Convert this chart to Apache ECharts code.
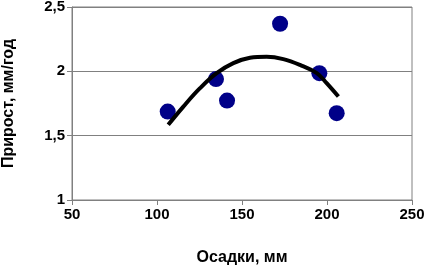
<!DOCTYPE html>
<html><head><meta charset="utf-8">
<script src="https://cdn.jsdelivr.net/npm/echarts@6/dist/echarts.min.js"></script>
<style>html,body{margin:0;padding:0;background:#fff}#c{width:425px;height:266px}</style>
</head><body><div id="c"></div>
<script>
var pointsX = [106.3, 134.7, 141.2, 172.4, 195.5, 205.7];
var pointsY = [1.687, 1.94, 1.773, 2.37, 1.986, 1.675];
var trendX = [106.6, 115.5, 125.3, 135.1, 144.9, 154.7, 164.5, 174.3, 184.1, 194.0, 199.8, 206.7];
var trendY = [1.584, 1.726, 1.869, 1.986, 2.064, 2.105, 2.113, 2.095, 2.05, 1.986, 1.908, 1.804];
var xTitle = 'Осадки, мм';
var yTitle = 'Прирост, мм/год';

var font = 'Liberation Sans, Arial, sans-serif';
var chart = echarts.init(document.getElementById('c'), null, {renderer: 'canvas'});
chart.setOption({
  animation: false,
  backgroundColor: '#fff',
  grid: {left: 72, right: 13, top: 7, bottom: 66, outerBoundsMode: 'none', containLabel: false,
    show: true, borderColor: '#808080', borderWidth: 1, backgroundColor: 'transparent'},
  xAxis: {
    type: 'value', min: 50, max: 250, interval: 50,
    name: xTitle, nameLocation: 'middle', nameGap: 50,
    nameTextStyle: {fontFamily: font, fontWeight: 'bold', fontSize: 16, color: '#000'},
    axisLine: {show: true, lineStyle: {color: '#808080', width: 1}},
    axisTick: {show: true, inside: false, length: 5, lineStyle: {color: '#808080'}},
    axisLabel: {fontFamily: font, fontWeight: 'bold', fontSize: 15, color: '#000', margin: 7},
    splitLine: {show: false}
  },
  yAxis: {
    type: 'value', min: 1, max: 2.5, interval: 0.5,
    name: yTitle, nameLocation: 'middle', nameGap: 55, nameRotate: 90,
    nameTextStyle: {fontFamily: font, fontWeight: 'bold', fontSize: 16, color: '#000'},
    axisLine: {show: true, lineStyle: {color: '#808080', width: 1}},
    axisTick: {show: true, inside: false, length: 5, lineStyle: {color: '#808080'}},
    axisLabel: {fontFamily: font, fontWeight: 'bold', fontSize: 15, color: '#000', margin: 7,
      formatter: function (v) { return String(v).replace('.', ','); }},
    splitLine: {show: true, lineStyle: {color: '#808080', width: 1}}
  },
  series: [
    {
      type: 'scatter', symbol: 'circle', symbolSize: 16, z: 2,
      itemStyle: {color: '#000088', opacity: 1},
      data: pointsX.map(function (x, i) { return [x, pointsY[i]]; })
    },
    {
      type: 'line', smooth: 0.4, showSymbol: false, z: 3,
      lineStyle: {color: '#000', width: 4},
      data: trendX.map(function (x, i) { return [x, trendY[i]]; })
    }
  ]
});
</script></body></html>
